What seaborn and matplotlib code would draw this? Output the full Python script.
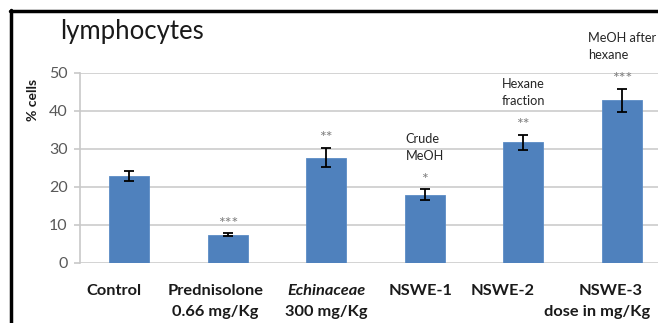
import matplotlib
matplotlib.use("Agg")
import matplotlib.pyplot as plt
from matplotlib.lines import Line2D
from matplotlib.transforms import ScaledTranslation
import seaborn as sns
import pandas as pd

# Groups, means and error bars (% lymphocytes)
groups = ["Control", "Prednisolone", "Echinaceae", "NSWE-1", "NSWE-2", "NSWE-3"]
doses = ["", "0.66 mg/Kg", "300 mg/Kg", "", "", "dose in mg/Kg"]
values = [23.0, 7.5, 27.7, 18.0, 31.8, 42.8]
errors = [1.3, 0.3, 2.5, 1.4, 2.0, 3.0]
stars = ["", "***", "**", "*", "**", "***"]
notes = ["", "", "", "Crude\nMeOH", "Hexane\nfraction", "MeOH after\nhexane"]
yticks = [0, 10, 20, 30, 40, 50]

# horizontal nudges (points) of the category captions under each bar
name_shift = [-11, -9, 0, -3, -15, -8]
dose_shift = [0, -9, 0, 0, 0, -18]

df = pd.DataFrame({"group": groups, "value": values})

sns.set_theme(style="white")
plt.rcParams["font.family"] = ["Lato", "DejaVu Sans"]

fig = plt.figure(figsize=(6.58, 3.23), dpi=100)
W, H = 658, 323
ax = fig.add_axes([80 / W, 1 - 263 / H, 591 / W, 190 / H])

sns.barplot(data=df, x="group", y="value", color="#4F81BD", saturation=1,
            width=0.41, errorbar=None, edgecolor="#5B8CC6", linewidth=0.6, ax=ax)
xs = list(range(len(groups)))
ax.errorbar(xs, values, yerr=errors, fmt="none", ecolor="black",
            elinewidth=1.3, capsize=3.5, capthick=1.3, zorder=4)

ax.set_xlim(-0.5, len(groups) - 0.5)
ax.set_ylim(0, 50)
ax.set_yticks(yticks)
ax.set_yticklabels([str(t) for t in yticks], fontsize=11.5, color="#595959")
ax.yaxis.grid(True, color="#D0D0D0", linewidth=1.3)
ax.set_axisbelow(True)
for side in ["top", "right", "bottom"]:
    ax.spines[side].set_visible(False)
ax.spines["left"].set_color("#C8C8C8")
ax.spines["left"].set_linewidth(1.2)
ax.tick_params(axis="y", which="major", left=True, length=4, width=1.2,
               color="#C8C8C8", pad=5)
ax.tick_params(axis="x", length=0, pad=15)

ax.set_xticks(xs)
ax.set_xticklabels(groups, fontsize=11.8, fontweight="bold", color="#1a1a1a")
ax.get_xticklabels()[2].set_fontstyle("italic")
for lab, dx in zip(ax.get_xticklabels(), name_shift):
    lab.set_transform(lab.get_transform() + ScaledTranslation(dx / 72, 0, fig.dpi_scale_trans))
for x, d, dx in zip(xs, doses, dose_shift):
    if d:
        ax.annotate(d, xy=(x, 0), xycoords="data", xytext=(dx, -30),
                    textcoords="offset points", ha="center", va="top",
                    fontsize=11.8, fontweight="bold", color="#1a1a1a",
                    annotation_clip=False)

ax.set_xlabel("")
ax.set_ylabel("")
fig.text(33 / W, 1 - 100 / H, "% cells", rotation=90, ha="center", va="center",
         fontsize=10, fontweight="bold", color="#1a1a1a")

# Significance marks and fraction notes above bars
for x, v, e, s, n in zip(xs, values, errors, stars, notes):
    top = v + e
    if s:
        ax.annotate(s, xy=(x, top), xytext=(0, 2), textcoords="offset points",
                    ha="center", va="bottom", fontsize=11.5, color="#808080",
                    annotation_clip=False)
    if n:
        ax.annotate(n, xy=(x, top), xytext=(0, 20), textcoords="offset points",
                    ha="center", va="bottom", multialignment="left",
                    fontsize=9.2, color="#262626", linespacing=1.5,
                    annotation_clip=False)

fig.text(60 / W, 1 - 31 / H, "lymphocytes", ha="left", va="center",
         fontsize=18.5, color="#1a1a1a")

# Outer frame edges
fig.add_artist(Line2D([11 / W, 11 / W], [0, 1 - 10 / H], color="black",
                      linewidth=2.5, transform=fig.transFigure))
fig.add_artist(Line2D([10 / W, 1], [1 - 11 / H, 1 - 11 / H], color="black",
                      linewidth=2.5, transform=fig.transFigure))

fig.savefig("out.png", dpi=100, facecolor="white")
